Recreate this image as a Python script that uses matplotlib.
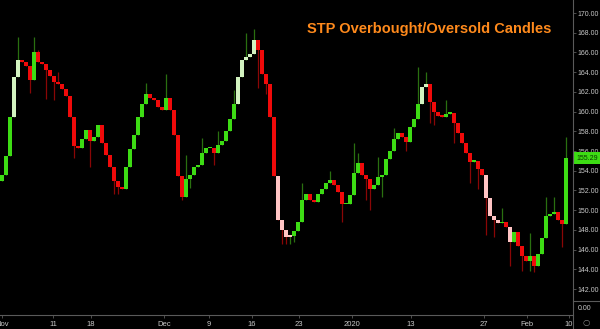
import matplotlib
matplotlib.use("Agg")
import matplotlib.pyplot as plt
from matplotlib.lines import Line2D
import numpy as np

# closes of the intraday bars (about two bars per trading day)
closes = [
    153.6, 155.5, 159.5, 163.5, 165.2, 165.0, 164.6, 163.2, 166.0, 165.0,
    164.8, 164.2, 163.6, 163.0, 162.8, 162.3, 161.6, 159.5, 156.5, 156.3,
    157.2, 158.1, 157.0, 157.4, 158.6, 156.8, 155.6, 154.4, 153.0, 152.4,
    152.2, 154.4, 156.2, 157.6, 159.5, 160.8, 161.8, 161.4, 161.2, 160.5,
    160.2, 161.4, 160.2, 157.6, 153.5, 151.3, 153.2, 153.6, 154.4, 154.6,
    155.8, 156.3, 156.3, 155.8, 156.6, 157.0, 158.0, 159.2, 160.8, 163.5,
    165.2, 165.5, 165.8, 167.3, 166.2, 163.8, 162.8, 159.5, 153.5, 149.0,
    148.0, 147.3, 147.4, 147.9, 148.8, 151.0, 151.6, 151.0, 150.8, 151.6,
    152.2, 152.8, 153.1, 152.6, 151.8, 150.6, 150.6, 151.5, 153.8, 154.8,
    153.6, 153.2, 152.1, 152.6, 153.4, 153.6, 155.2, 156.0, 157.2, 157.8,
    157.4, 156.9, 158.4, 159.3, 160.8, 162.5, 162.8, 161.0, 160.0, 159.6,
    159.5, 159.8, 159.9, 158.8, 157.8, 156.8, 155.8, 154.9, 155.0, 154.2,
    153.6, 151.2, 149.4, 149.0, 148.7, 148.8, 148.3, 146.8, 147.8, 146.4,
    145.4, 144.8, 145.4, 144.3, 145.6, 147.2, 149.4, 149.6, 149.8, 149.0,
    148.6, 155.29,
]
first_open = 153.0

# visible wick tips (bar index -> price)
wick_highs = {4: 167.6, 8: 167.6, 9: 166.2, 14: 164.0, 36: 162.9, 41: 163.8,
              46: 155.6, 50: 157.3, 54: 158.0, 58: 162.2, 61: 168.0, 63: 168.4,
              75: 152.8, 82: 154.0, 88: 156.8, 89: 155.8, 94: 155.4, 98: 158.3,
              104: 164.5, 106: 164.0, 111: 161.2, 125: 150.2, 132: 147.7,
              136: 151.3, 138: 151.3, 141: 157.4}
wick_lows = {7: 161.9, 11: 161.3, 13: 161.2, 18: 155.3, 22: 154.4, 28: 151.6,
             29: 151.6, 45: 151.0, 47: 152.3, 53: 154.6, 64: 162.4, 66: 161.8,
             70: 146.6, 71: 146.6, 72: 146.6, 73: 146.8, 85: 148.8, 91: 151.0,
             92: 150.0, 95: 151.3, 101: 156.0, 107: 158.8, 108: 158.6,
             113: 156.8, 117: 152.8, 119: 152.2, 121: 147.5, 123: 147.3,
             127: 144.3, 130: 143.8, 132: 143.8, 133: 143.7, 140: 146.3}

# indicator state
overbought = [3, 4, 59, 60, 61, 62, 63, 105, 106]
oversold = [69, 70, 71, 72, 121, 122, 123, 124, 127]

tick_pos = [0, 12.75, 22.25, 40.5, 51.75, 62.5, 74.25, 87.5, 102.25, 120.5, 131.25, 141.75]
tick_labels = ["Nov", "11", "18", "Dec", "9", "16", "23", "2020", "13", "27", "Feb", "10"]
price_ticks = np.arange(142, 171, 2)

title = "STP Overbought/Oversold Candles"

GREEN, RED = "#3ddc14", "#f00a0a"
LIGHT_GREEN, PINK = "#d2f2c0", "#ffc4c4"
DARK_GREEN, DARK_RED = "#2a7010", "#8a0606"
GRID_COL = "#5a5a5a"
TXT_COL = "#c8c8c8"

plt.rcParams['font.family'] = ['Liberation Sans', 'DejaVu Sans']

closes = np.array(closes)
opens = np.concatenate([[first_open], closes[:-1]])
idx = np.arange(len(closes))
top = np.maximum(opens, closes)
bot = np.minimum(opens, closes)
highs = top.copy()
lows = bot.copy()
for k, v in wick_highs.items():
    highs[k] = max(highs[k], v)
for k, v in wick_lows.items():
    lows[k] = min(lows[k], v)

up = closes >= opens
body_cols = np.where(up, GREEN, RED).astype(object)
wick_cols = np.where(up, DARK_GREEN, DARK_RED).astype(object)
for k in overbought:
    body_cols[k] = LIGHT_GREEN
for k in oversold:
    body_cols[k] = PINK

fig = plt.figure(figsize=(6, 3.29), dpi=100, facecolor="black")
W, H = 600, 329
ax = fig.add_axes([0, (H - 301) / H, 573 / W, 301 / H], facecolor="black")
ax2 = fig.add_axes([0, (H - 315) / H, 573 / W, 14 / H], facecolor="black")

ax.vlines(idx, lows, highs, colors=list(wick_cols), linewidth=0.9, zorder=2)
heights = np.maximum(top - bot, 0.15)
ax.bar(idx, heights, bottom=bot, width=0.8, color=list(body_cols),
       linewidth=0, zorder=3)

ax.set_xlim(-0.5, 142.75)
ax.set_ylim(140.79, 171.32)
ax.yaxis.tick_right()
ax.set_yticks(price_ticks)
ax.set_yticklabels([f"{p:.2f}" for p in price_ticks])
ax.tick_params(axis="y", colors=GRID_COL, labelcolor=TXT_COL, labelsize=5,
               length=2, width=0.6, pad=1.5)
ax.tick_params(axis="x", bottom=False, labelbottom=False)
for s in ax.spines.values():
    s.set_visible(False)

# last price tag
last = closes[-1]
ax.annotate(f"{last:.2f}", xy=(1.0, last), xycoords=("axes fraction", "data"),
            xytext=(2.5, 0), textcoords="offset points", ha="left", va="center",
            fontsize=5, color="#0a3a00", annotation_clip=False,
            bbox=dict(boxstyle="square,pad=0.3", fc=GREEN, ec="none"))

ax.text(0.962, 0.905, title, transform=ax.transAxes, ha="right", va="center",
        color="#ff8a1c", fontsize=10.5, fontweight="bold")

# lower small panel
ax2.set_xlim(-0.5, 142.75)
ax2.set_ylim(0, 1)
ax2.set_yticks([])
ax2.set_xticks(tick_pos)
ax2.set_xticklabels(tick_labels)
ax2.tick_params(axis="x", colors=GRID_COL, labelcolor=TXT_COL, labelsize=5.5,
                length=2, width=0.6, pad=2)
for s in ax2.spines.values():
    s.set_visible(False)
ax2.spines["bottom"].set_visible(True)
ax2.spines["bottom"].set_color(GRID_COL)
ax2.spines["bottom"].set_linewidth(0.8)

fig.text(578 / W, 1 - 309 / H, "0.00", color=TXT_COL, fontsize=5,
         ha="left", va="center")
fig.text(586 / W, 1 - 322 / H, "○", color="#8a8a8a", fontsize=6,
         ha="center", va="center", family=["DejaVu Sans"])

# axis separators
fig.add_artist(Line2D([573 / W, 573 / W], [0, 1], color=GRID_COL, lw=0.8))
fig.add_artist(Line2D([573 / W, 1], [1 - 301 / H, 1 - 301 / H], color=GRID_COL, lw=0.8))

fig.savefig("out.png", dpi=100, facecolor="black")
